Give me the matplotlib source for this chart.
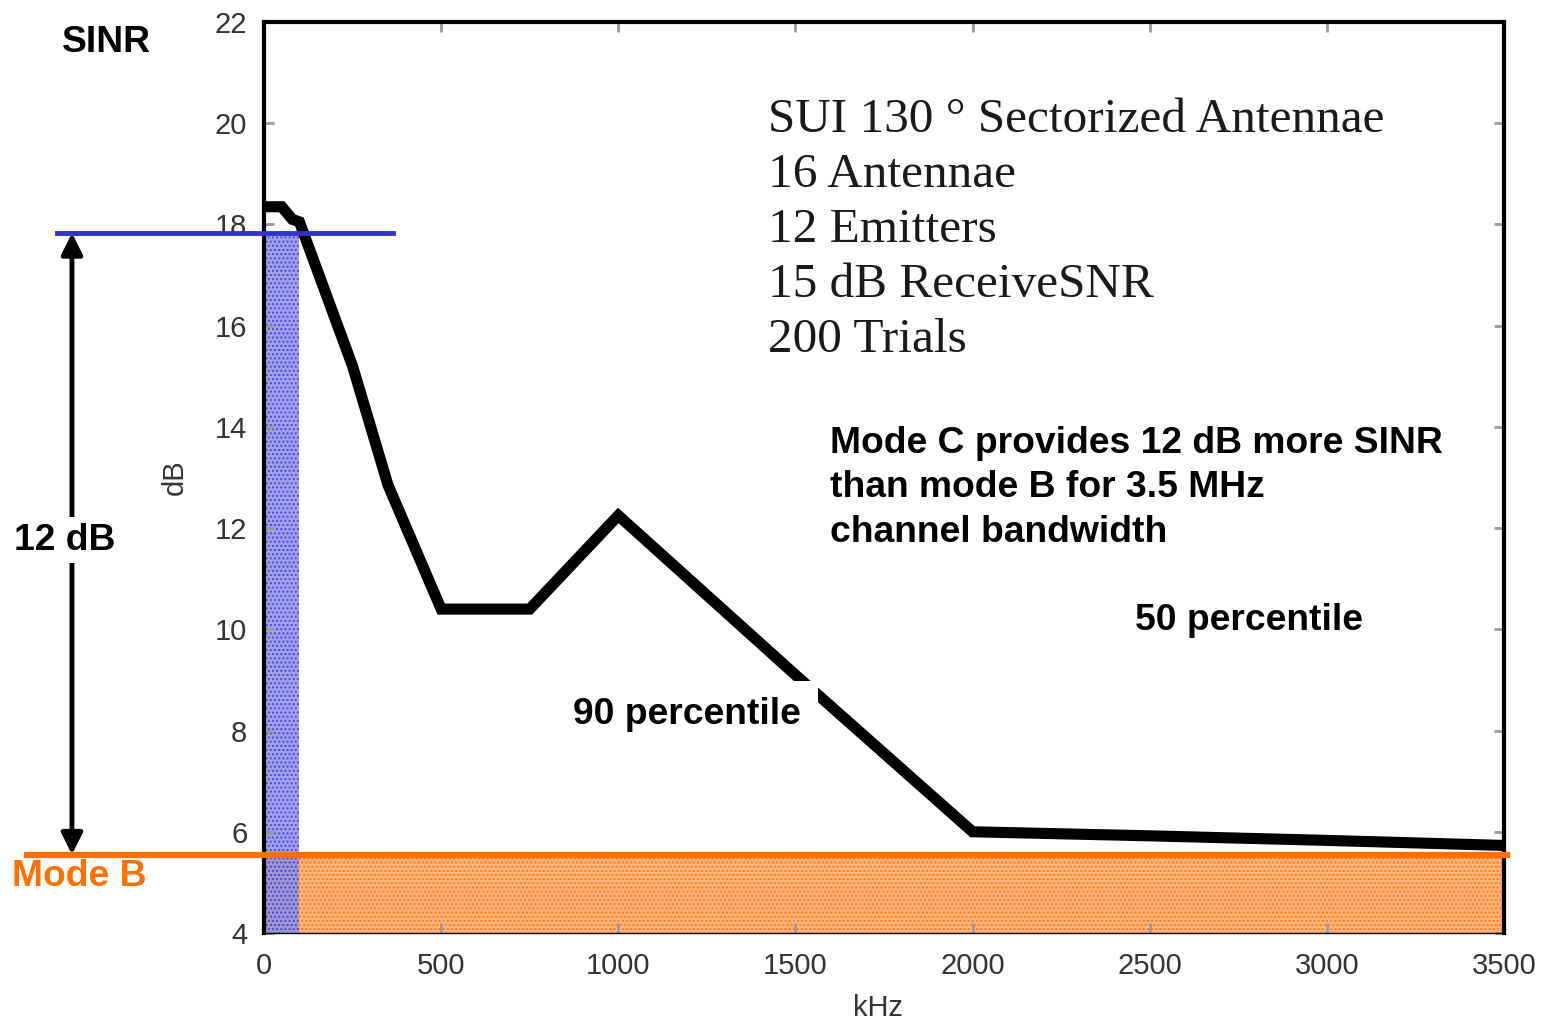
import numpy as np
import matplotlib.pyplot as plt
from matplotlib.patches import Rectangle

# 90 percentile SINR curve (kHz, dB)
freq_khz = [0, 50, 80, 100, 250, 350, 500, 750, 1000, 1500, 2000, 2500, 3000, 3500]
sinr_db = [18.35, 18.35, 18.1, 18.05, 15.2, 12.85, 10.4, 10.4, 12.25, 9.1, 6.0, 5.92, 5.83, 5.73]

mode_b_db = 5.55
mode_c_db = 17.83
mode_c_band_khz = 100

x_ticks = [0, 500, 1000, 1500, 2000, 2500, 3000, 3500]
y_ticks = [4, 6, 8, 10, 12, 14, 16, 18, 20, 22]

info_lines = ["SUI 130 \u00b0 Sectorized Antennae", "16 Antennae", "12 Emitters",
              "15 dB ReceiveSNR", "200 Trials"]
note = "Mode C provides 12 dB more SINR\nthan mode B for 3.5 MHz\nchannel bandwidth"

W, H = 1546, 1023
fig = plt.figure(figsize=(W / 100, H / 100), dpi=100)
ax = fig.add_axes([264 / W, 1 - 933 / H, (1504 - 264) / W, (933 - 22) / H])
ax.set_xlim(0, 3500)
ax.set_ylim(4, 22)

orange = '#ff7000'
blue = '#3333cc'
sans = ['Liberation Sans', 'DejaVu Sans']

# shaded regions
ax.add_patch(Rectangle((0, 4), 3500, mode_b_db - 4, facecolor='#ffb27a', edgecolor='#ff7a1a',
                       hatch='....', linewidth=0, zorder=1))
ax.add_patch(Rectangle((0, 4), mode_c_band_khz, mode_c_db - 4, facecolor='#8f93e8', edgecolor='#3b3fcf',
                       hatch='....', linewidth=0, alpha=0.85, zorder=1.5))

ax.plot(freq_khz, sinr_db, color='black', lw=8, solid_joinstyle='miter', zorder=3)

# reference levels (run past the axes)
ax.plot([-669, 3508], [mode_b_db, mode_b_db], color=orange, lw=4.5, clip_on=False, zorder=4)
ax.plot([-584, 364], [mode_c_db, mode_c_db], color=blue, lw=3.5, clip_on=False, zorder=4)

ax.annotate('', xy=(-542, mode_b_db), xytext=(-542, mode_c_db), annotation_clip=False,
            arrowprops=dict(arrowstyle='<|-|>', color='black', lw=3.5, mutation_scale=32,
                            shrinkA=0, shrinkB=0))

ax.set_xticks(x_ticks)
ax.set_yticks(y_ticks)
ax.tick_params(direction='in', length=7, width=2, color='#999999', labelcolor='#333333',
               labelsize=21, top=True, right=True)
ax.tick_params(axis='x', pad=14)
ax.tick_params(axis='y', pad=12)
for lbl in ax.get_xticklabels() + ax.get_yticklabels():
    lbl.set_family(sans)
for side in ['left', 'top', 'right']:
    ax.spines[side].set_linewidth(3)
ax.spines['bottom'].set_linewidth(1)
ax.set_xlabel('kHz', fontsize=21, color='#333333', family=sans)
ax.set_ylabel('dB', fontsize=21, color='#333333', family=sans)
ax.xaxis.set_label_coords((878 - 264) / 1240, (933 - 1008) / 911)
ax.yaxis.set_label_coords((175 - 264) / 1240, 0.5)
ax.xaxis.label.set_va('center')
ax.yaxis.label.set_va('center')

serif = ['Liberation Serif', 'DejaVu Serif']
for i, line in enumerate(info_lines):
    fig.text(768 / W, 1 - (120 + 55 * i) / H, line, fontsize=35.5, family=serif, color='#1a1a1a',
             va='center', ha='left')

bold = dict(family=sans, fontweight='bold', fontsize=26.8)
for i, line in enumerate(note.split('\n')):
    fig.text(830 / W, 1 - (443 + 44.5 * i) / H, line, va='center', ha='left', **bold)
fig.text(1135 / W, 1 - 620 / H, '50 percentile', va='center', ha='left', **bold)
fig.text(573 / W, 1 - 715 / H, '90 percentile', va='center', ha='left', zorder=5,
         bbox=dict(facecolor='white', edgecolor='none', pad=12), **bold)
fig.text(62 / W, 1 - 43 / H, 'SINR', va='center', ha='left', **bold)
fig.text(14 / W, 1 - 540 / H, '12 dB', va='center', ha='left', zorder=5,
         bbox=dict(facecolor='white', edgecolor='none', pad=4), **bold)
fig.text(12 / W, 1 - 876 / H, 'Mode B', va='center', ha='left', color=orange, **bold)

fig.savefig('out.png', dpi=100)
